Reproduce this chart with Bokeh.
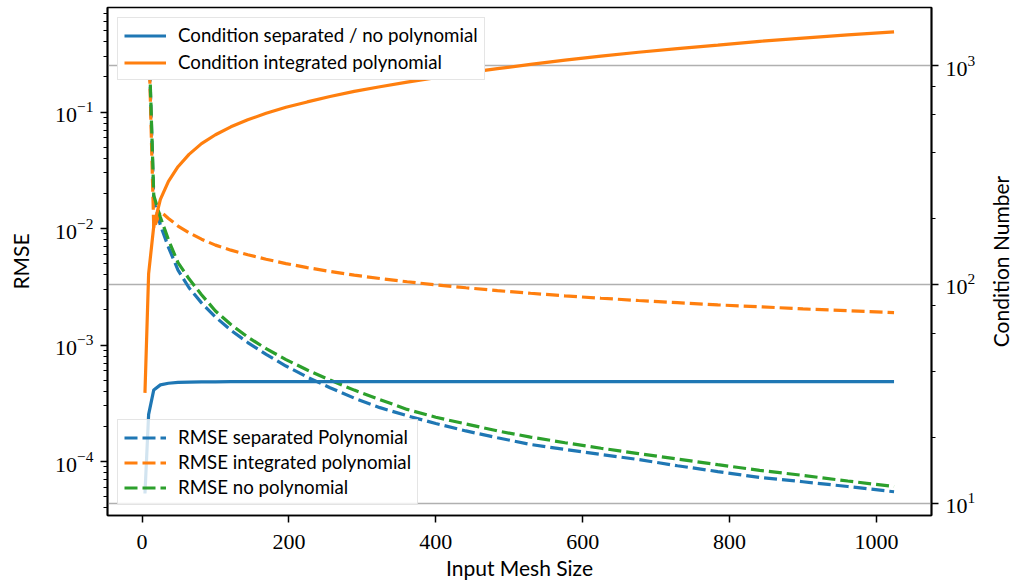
import math
from bokeh.plotting import figure
from bokeh.layouts import row
from bokeh.core.properties import value
from bokeh.models import (Range1d, LogScale, LogAxis, Grid, Legend, LegendItem,
                          SingleIntervalTicker, LogTicker)
from bokeh.embed import file_html
from bokeh.resources import INLINE

# ---------------- data ----------------
mesh_size = [4, 9, 16, 25, 36, 49, 64, 81, 100, 121, 144, 169, 196, 225, 256, 289,
             324, 361, 400, 441, 484, 529, 576, 625, 676, 729, 784, 841, 900, 961, 1024]

cond_separated = [11.1, 25.5, 33.0, 34.8, 35.4, 35.7, 35.8, 35.9, 35.9, 36.0, 36.0,
                  36.0, 36.0, 36.0, 36.0, 36.0, 36.0, 36.0, 36.0, 36.0, 36.0, 36.0,
                  36.0, 36.0, 36.0, 36.0, 36.0, 36.0, 36.0, 36.0, 36.0]
cond_integrated = [32, 112, 185, 245, 296, 345, 393, 440, 483, 525, 565, 605, 645, 682,
                   722, 762, 800, 840, 880, 925, 968, 1012, 1058, 1105, 1150, 1195, 1240,
                   1290, 1335, 1380, 1424]

rmse_mesh = [9, 16, 25, 36, 49, 64, 81, 100, 121, 144, 169, 196, 225, 256, 289,
             324, 361, 400, 441, 484, 529, 576, 625, 676, 729, 784, 841, 900, 961, 1024]
rmse_separated = [0.48, 0.0175, 0.0107, 0.0069, 0.0044, 0.0031, 0.0023, 0.00174, 0.00134,
                  0.00105, 0.00083, 0.00066, 0.00053, 0.00043, 0.00035, 0.00029, 0.000247,
                  0.000212, 0.000183, 0.000160, 0.000140, 0.000127, 0.000115, 0.000104,
                  9.2e-5, 8.2e-5, 7.3e-5, 6.7e-5, 6.1e-5, 5.5e-5]
rmse_integrated = [0.46, 0.0100, 0.0140, 0.0122, 0.0105, 0.0092, 0.0081, 0.0072, 0.00652,
                   0.00595, 0.00545, 0.00500, 0.00462, 0.00428, 0.00398, 0.00372, 0.00349,
                   0.00328, 0.00310, 0.00293, 0.00278, 0.00264, 0.00252, 0.00241, 0.00231,
                   0.00221, 0.00213, 0.00204, 0.00197, 0.00190]
rmse_none = [0.5, 0.0192, 0.0125, 0.0080, 0.0051, 0.0037, 0.0027, 0.00196, 0.00150,
             0.00117, 0.00093, 0.00075, 0.00061, 0.00050, 0.00041, 0.00034, 0.00028,
             0.00024, 0.00021, 0.000183, 0.000162, 0.000145, 0.000130, 0.000117,
             0.000105, 9.4e-5, 8.4e-5, 7.6e-5, 6.8e-5, 6.1e-5]

x_ticks_interval = 200

# ---------------- styling ----------------
BLUE, ORANGE, GREEN = "#1f77b4", "#ff7f0e", "#2ca02c"
SANS = "Lato"
SERIF = "Liberation Serif"
LW = 3.2
DASH = "13 5"

MAIN_W, SIDE_W, H = 980, 34, 584

p = figure(width=MAIN_W, height=H, y_axis_type="log",
           x_range=Range1d(-47, 1075), y_range=Range1d(3.44e-5, 0.789),
           output_backend="svg", toolbar_location=None,
           min_border_left=107, min_border_right=49, min_border_top=7, min_border_bottom=69)
p.extra_y_ranges = {"cond": Range1d(8.81, 1841)}
p.extra_y_scales = {"cond": LogScale()}

p.outline_line_color = "black"
p.outline_line_width = 1.7
p.outline_line_alpha = 1.0
p.xgrid.grid_line_color = None
p.ygrid.grid_line_color = None
p.background_fill_color = "white"
p.border_fill_color = "white"

left_axis = p.yaxis[0]
bottom_axis = p.xaxis[0]
right_axis = LogAxis(y_range_name="cond", ticker=LogTicker())
p.add_layout(right_axis, "right")

for ax in [bottom_axis, left_axis, right_axis]:
    ax.axis_line_color = "black"
    ax.axis_line_width = 1.7
    ax.major_tick_line_color = "black"
    ax.major_tick_line_width = 1.5
    ax.minor_tick_line_color = "black"
    ax.minor_tick_line_width = 1.2
    ax.major_tick_out = 7
    ax.major_tick_in = 0
    ax.minor_tick_out = 4
    ax.minor_tick_in = 0
    ax.major_label_text_font = SERIF
    ax.major_label_text_font_size = "22px"
    ax.major_label_text_color = "black"
    ax.axis_label_text_font = SANS
    ax.axis_label_text_font_size = "21px"
    ax.axis_label_text_font_style = "normal"
    ax.axis_label_text_color = "black"
    ax.major_label_standoff = 7

bottom_axis.ticker = SingleIntervalTicker(interval=x_ticks_interval, num_minor_ticks=0)
bottom_axis.minor_tick_line_color = None
bottom_axis.axis_label = "Input Mesh Size"
bottom_axis.major_label_standoff = 12
bottom_axis.axis_label_standoff = 3
left_axis.axis_label = "RMSE"
left_axis.axis_label_standoff = 19

grid = Grid(dimension=1, axis=right_axis, ticker=right_axis.ticker, y_range_name="cond",
            grid_line_color="#b0b0b0", grid_line_width=1.6)
p.add_layout(grid, "center")

# RMSE (left axis) dashed lines
r_sep = p.line(rmse_mesh, rmse_separated, line_color=BLUE, line_width=LW, line_dash=DASH)
r_int = p.line(rmse_mesh, rmse_integrated, line_color=ORANGE, line_width=LW, line_dash=DASH)
r_none = p.line(rmse_mesh, rmse_none, line_color=GREEN, line_width=LW, line_dash=DASH)

# Condition numbers (right axis) solid lines
c_sep = p.line(mesh_size, cond_separated, line_color=BLUE, line_width=LW, y_range_name="cond")
c_int = p.line(mesh_size, cond_integrated, line_color=ORANGE, line_width=LW, y_range_name="cond")

def style_legend(lg, spacing, alpha):
    lg.label_text_font = SANS
    lg.label_text_font_size = "18.7px"
    lg.label_text_color = "black"
    lg.glyph_width = 42
    lg.glyph_height = 21
    lg.label_height = 21
    lg.label_standoff = 12
    lg.padding = 6
    lg.spacing = spacing
    lg.margin = 10
    lg.border_line_color = "#cccccc"
    lg.border_line_width = 1.5
    lg.background_fill_color = "white"
    lg.background_fill_alpha = alpha

leg_bottom = Legend(items=[LegendItem(label="RMSE separated Polynomial", renderers=[r_sep]),
                           LegendItem(label="RMSE integrated polynomial", renderers=[r_int]),
                           LegendItem(label="RMSE no polynomial", renderers=[r_none])],
                    location="bottom_left")
style_legend(leg_bottom, 3, 0.8)
leg_bottom.level = "underlay"
p.add_layout(leg_bottom, "center")

leg_top = Legend(items=[LegendItem(label="Condition separated / no polynomial", renderers=[c_sep]),
                        LegendItem(label="Condition integrated polynomial", renderers=[c_int])],
                 location="top_left")
style_legend(leg_top, 5, 1.0)
p.add_layout(leg_top, "center")

# narrow side panel carrying the right-axis title (reads bottom-to-top)
side = figure(width=SIDE_W, height=H, x_range=Range1d(0, SIDE_W), y_range=Range1d(0, H),
              output_backend="svg", toolbar_location=None,
              x_axis_location=None, y_axis_location=None, min_border=0)
side.outline_line_color = None
side.xgrid.grid_line_color = None
side.ygrid.grid_line_color = None
side.background_fill_color = "white"
side.border_fill_color = "white"
side.text(x=[20], y=[H - 292], text=["Condition Number"], angle=math.pi / 2,
          text_align="center", text_baseline="middle", text_font=value(SANS),
          text_font_size="21px", text_color="black")

layout = row(p, side, spacing=0)
open("out.html", "w").write(file_html(layout, INLINE))
